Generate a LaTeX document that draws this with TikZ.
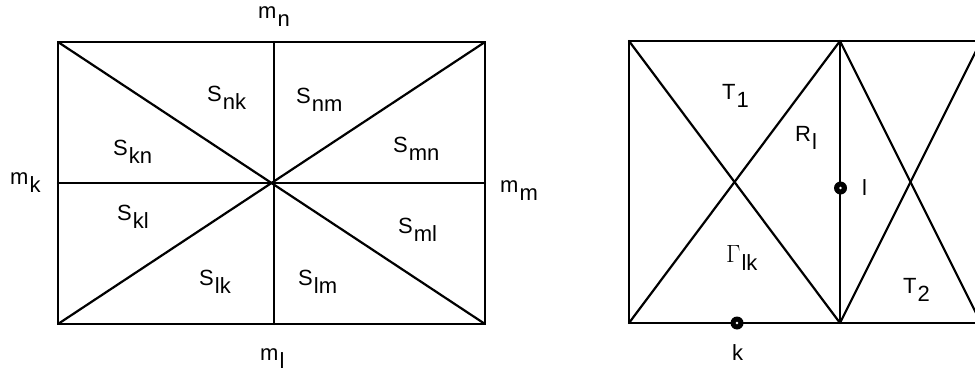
\documentclass[tikz,border=0pt]{standalone}
\usepackage{fontspec}
\setmainfont{Liberation Sans}
\newcommand{\sbs}[2]{#1\kern1pt\raisebox{-8.5pt}{#2}}
\begin{document}
\begin{tikzpicture}[x=1pt,y=-1pt,
  edge/.style={line width=2.2pt,line cap=round,line join=miter},
  lab/.style={anchor=base west,inner sep=0pt,font=\fontsize{22}{26}\selectfont},
  pt/.style={circle,fill=black,inner sep=0pt,minimum size=13pt}]
\useasboundingbox (0,0) rectangle (975,372);
% left figure
\coordinate (A) at (58,42);
\coordinate (B) at (485,42);
\coordinate (C) at (485,324);
\coordinate (D) at (58,324);
\coordinate (O) at (274,183);
\coordinate (N) at (274,42);
\coordinate (L) at (274,324);
\coordinate (K) at (58,183);
\coordinate (M) at (485,183);
\draw[edge] (A) -- (B) -- (C) -- (D) -- cycle;
\draw[edge] (A) -- (C);
\draw[edge] (B) -- (D);
\draw[edge] (N) -- (L);
\draw[edge] (K) -- (M);
\node[lab] (mn) at (258,18) {\sbs{m}{n}};
\node[lab] (mk) at (10,184) {\sbs{m}{k}};
\node[lab] (mm) at (500,192) {\sbs{m}{m}};
\node[lab] (ml) at (260,360) {\sbs{m}{l}};
\node[lab] (snk) at (207,101) {\sbs{S}{nk}};
\node[lab] (snm) at (296,103) {\sbs{S}{nm}};
\node[lab] (skn) at (113,155) {\sbs{S}{kn}};
\node[lab] (smn) at (393,152) {\sbs{S}{mn}};
\node[lab] (skl) at (117,220) {\sbs{S}{kl}};
\node[lab] (sml) at (398,233) {\sbs{S}{ml}};
\node[lab] (slk) at (199,285) {\sbs{S}{lk}};
\node[lab] (slm) at (298,285) {\sbs{S}{lm}};
% right figure
\coordinate (P1) at (629,41);
\coordinate (P2) at (840,41);
\coordinate (P3) at (840,323);
\coordinate (P4) at (629,323);
\coordinate (Q2) at (981,41);
\coordinate (Q3) at (981,323);
\begin{scope}
\clip (600,0) rectangle (975,372);
\draw[edge] (P1) -- (Q2);
\draw[edge] (P4) -- (Q3);
\draw[edge] (P1) -- (P4);
\draw[edge] (P2) -- (P3);
\draw[edge] (P1) -- (P3);
\draw[edge] (P4) -- (P2);
\draw[edge] (P2) -- (Q3);
\draw[edge] (P3) -- (Q2);
\end{scope}
\node[pt] (dl) at (840.5,188) {};
\fill[white] (dl) circle (1.3pt);
\node[pt] (dk) at (737,323) {};
\fill[white] (dk) circle (1.3pt);
\node[lab] (t1) at (722,99) {\sbs{T}{1}};
\node[lab] (rl) at (795,141) {\sbs{R}{l}};
\node[lab] (ll) at (862,195) {l};
\node[lab] (glk) at (726,262) {\sbs{\scalebox{1.2}{$\Gamma$}}{lk}};
\node[lab] (t2) at (903,293) {\sbs{T}{2}};
\node[lab] (kk) at (732,360) {k};
\end{tikzpicture}
\end{document}
